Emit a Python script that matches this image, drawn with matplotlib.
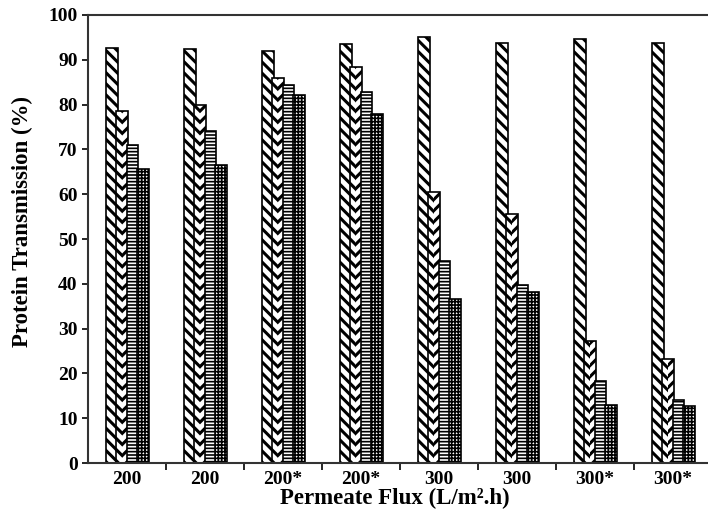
import numpy as np
import matplotlib
matplotlib.use('Agg')
import matplotlib.pyplot as plt

flux_labels = ['200', '200', '200*', '200*', '300', '300', '300*', '300*']
series1 = [92.7, 92.4, 92.0, 93.5, 95.0, 93.8, 94.7, 93.8]
series2 = [78.6, 80.0, 86.0, 88.5, 60.5, 55.6, 27.2, 23.3]
series3 = [71.0, 74.0, 84.3, 82.8, 45.2, 39.7, 18.3, 14.0]
series4 = [65.7, 66.5, 82.2, 78.0, 36.5, 38.2, 13.0, 12.7]

plt.rcParams['font.family'] = 'Liberation Serif'
plt.rcParams['font.weight'] = 'bold'

x = np.arange(len(flux_labels))
w = 0.15

fig = plt.figure(figsize=(7.08, 5.21), dpi=100)
ax = fig.add_axes([88/708, 58/521, 624/708, 448/521])

with plt.rc_context({'hatch.linewidth': 2.2}):
    ax.bar(x - 0.195, series1, w, color='white', edgecolor='black', lw=1.2, hatch='\\\\\\')
    # chevron pattern: two half-width bars with opposite diagonals
    ax.bar(x - 0.06 - w/4, series2, w/2, color='white', edgecolor='black', lw=0, hatch='\\\\\\')
    ax.bar(x - 0.06 + w/4, series2, w/2, color='white', edgecolor='black', lw=0, hatch='///')
ax.bar(x - 0.06, series2, w, fill=False, edgecolor='black', lw=1.2)
with plt.rc_context({'hatch.linewidth': 1.2}):
    ax.bar(x + 0.07, series3, w, color='white', edgecolor='black', lw=1.2, hatch='-----')
    ax.bar(x + 0.205, series4, w, color='white', edgecolor='black', lw=1.2, hatch='+++++')

ax.set_xlim(-0.5, 7.5)
ax.set_ylim(0, 100)
ax.set_yticks(np.arange(0, 101, 10))
ax.set_xticks(np.arange(0.5, 7.5, 1.0))
ax.set_xticklabels([])
ax.set_xticks(x, minor=True)
ax.set_xticklabels(flux_labels, minor=True, fontsize=14, fontweight='bold')
ax.tick_params(axis='x', which='minor', length=0, pad=6)
ax.tick_params(axis='x', which='major', length=5, width=1.2, direction='out')
ax.tick_params(axis='y', length=4, width=1.2, labelsize=14, direction='out')
for lab in ax.get_yticklabels():
    lab.set_fontweight('bold')

for side in ['left', 'bottom', 'top']:
    ax.spines[side].set_linewidth(1.5)
    ax.spines[side].set_color('#333333')
ax.spines['right'].set_visible(False)

ax.set_ylabel('Protein Transmission (%)', fontsize=16.5, fontweight='bold')
ax.set_xlabel('Permeate Flux (L/m².h)', fontsize=16.5, fontweight='bold')
ax.yaxis.set_label_coords(-0.088, 0.538)
ax.xaxis.set_label_coords(0.492, -0.055)

fig.savefig('out.png', dpi=100)
